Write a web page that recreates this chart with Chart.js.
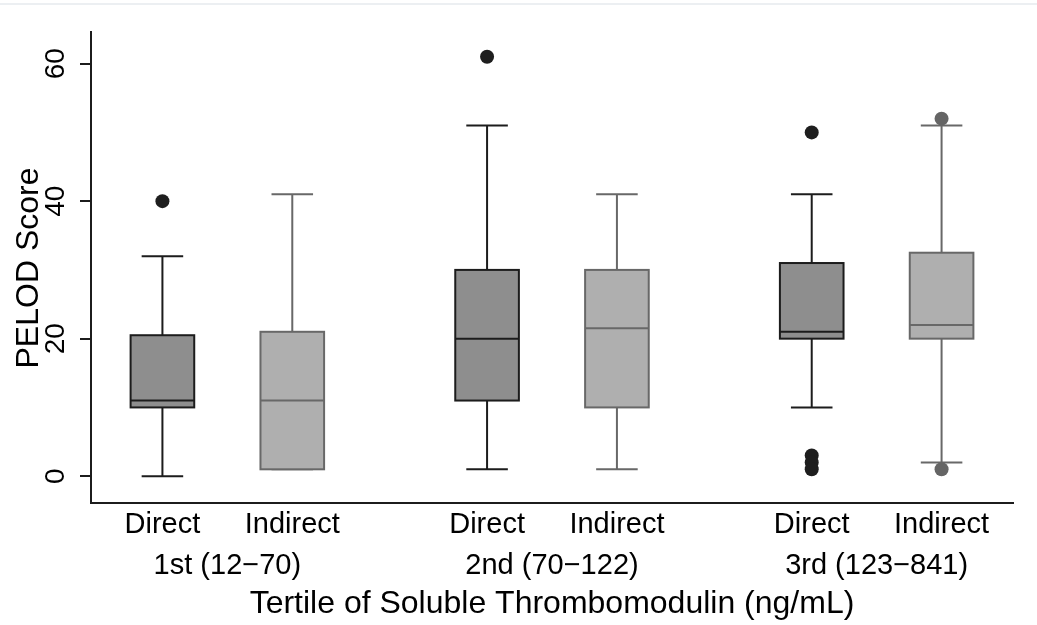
<!DOCTYPE html>
<html>
<head>
<meta charset="utf-8">
<script src="https://cdn.jsdelivr.net/npm/chart.js@4.4.0/dist/chart.umd.min.js"></script>
<style>
  html, body { margin: 0; padding: 0; background: #fff; }
  #wrap { width: 1037px; height: 625px; }
</style>
</head>
<body>
<div id="wrap"><canvas id="myChart" width="1037" height="625"></canvas></div>
<script>
// box plot data
const boxLabels = ['Direct', 'Indirect', 'Direct', 'Indirect', 'Direct', 'Indirect'];
const boxPos = [1, 2, 3.5, 4.5, 6, 7];
const whiskerLow = [0, 1, 1, 1, 10, 2];
const q1 = [10, 1, 11, 10, 20, 20];
const median = [11, 11, 20, 21.5, 21, 22];
const q3 = [20.5, 21, 30, 30, 31, 32.5];
const whiskerHigh = [32, 41, 51, 41, 41, 51];
const outliers = [[40], [], [61], [], [50, 3, 2, 1], [52, 1]];
const groupLabels = ['1st (12\u221270)', '2nd (70\u2212122)', '3rd (123\u2212841)'];
const yTicks = [0, 20, 40, 60];

const FONT = '"Liberation Sans", Arial, Helvetica, sans-serif';
const boxWidth = 0.49;
const capWidth = 0.32;

// outlier points, coloured like their box
let directPts = [], indirectPts = [];
outliers.forEach(function(list, i) {
  list.forEach(function(v) {
    if (i % 2 == 0) directPts.push({x: boxPos[i], y: v});
    else indirectPts.push({x: boxPos[i], y: v});
  });
});

const boxPlugin = {
  id: 'boxes',
  beforeDraw(chart) {
    const ctx = chart.ctx;
    ctx.save();
    ctx.fillStyle = '#fff';
    ctx.fillRect(0, 0, chart.width, chart.height);
    ctx.fillStyle = '#eceff2';
    ctx.fillRect(0, 3, chart.width, 2);
    ctx.restore();
  },
  beforeDatasetsDraw(chart) {
    const ctx = chart.ctx;
    const x = chart.scales.x, y = chart.scales.y;
    ctx.save();
    boxPos.forEach(function(p, i) {
      const direct = i % 2 == 0;
      const line = direct ? '#1c1c1c' : '#686868';
      const fill = direct ? '#8e8e8e' : '#afafaf';
      const cx = x.getPixelForValue(p);
      const bl = x.getPixelForValue(p - boxWidth / 2), br = x.getPixelForValue(p + boxWidth / 2);
      const cl = x.getPixelForValue(p - capWidth / 2), cr = x.getPixelForValue(p + capWidth / 2);
      const yq1 = y.getPixelForValue(q1[i]), yq3 = y.getPixelForValue(q3[i]);
      const ylo = y.getPixelForValue(whiskerLow[i]), yhi = y.getPixelForValue(whiskerHigh[i]);
      const ymed = y.getPixelForValue(median[i]);
      ctx.strokeStyle = line;
      ctx.lineWidth = 2;
      // whiskers
      ctx.beginPath();
      ctx.moveTo(cx, yhi); ctx.lineTo(cx, yq3);
      ctx.moveTo(cx, yq1); ctx.lineTo(cx, ylo);
      ctx.moveTo(cl, yhi); ctx.lineTo(cr, yhi);
      ctx.moveTo(cl, ylo); ctx.lineTo(cr, ylo);
      ctx.stroke();
      // box
      ctx.fillStyle = fill;
      ctx.fillRect(bl, yq3, br - bl, yq1 - yq3);
      ctx.strokeRect(bl, yq3, br - bl, yq1 - yq3);
      ctx.beginPath();
      ctx.moveTo(bl, ymed); ctx.lineTo(br, ymed);
      ctx.stroke();
    });
    ctx.restore();
  },
  afterDraw(chart) {
    const ctx = chart.ctx;
    const x = chart.scales.x, y = chart.scales.y;
    ctx.save();
    ctx.fillStyle = '#000';
    ctx.textAlign = 'center';
    ctx.textBaseline = 'middle';
    // y tick labels, rotated
    ctx.font = '28px ' + FONT;
    yTicks.forEach(function(v) {
      ctx.save();
      ctx.translate(56, y.getPixelForValue(v));
      ctx.rotate(-Math.PI / 2);
      ctx.fillText(String(v), 0, 0);
      ctx.restore();
    });
    // category labels
    ctx.font = '29px ' + FONT;
    boxLabels.forEach(function(lab, i) {
      ctx.fillText(lab, x.getPixelForValue(boxPos[i]), 525);
    });
    groupLabels.forEach(function(lab, g) {
      const mid = (boxPos[2 * g] + boxPos[2 * g + 1]) / 2;
      ctx.fillText(lab, x.getPixelForValue(mid), 566);
    });
    // axis titles
    ctx.font = '32px ' + FONT;
    ctx.fillText('Tertile of Soluble Thrombomodulin (ng/mL)', (chart.chartArea.left + chart.chartArea.right) / 2, 604);
    ctx.save();
    ctx.translate(29, 268);
    ctx.rotate(-Math.PI / 2);
    ctx.fillText('PELOD Score', 0, 0);
    ctx.restore();
    ctx.restore();
  }
};

const config = {
  type: 'scatter',
  data: {
    datasets: [{
      label: 'Direct',
      data: directPts,
      backgroundColor: '#1e1e1e',
      borderColor: '#1e1e1e',
      pointRadius: 7,
      borderWidth: 0
    }, {
      label: 'Indirect',
      data: indirectPts,
      backgroundColor: '#656565',
      borderColor: '#656565',
      pointRadius: 7,
      borderWidth: 0
    }]
  },
  options: {
    responsive: false,
    animation: false,
    layout: { padding: { left: 80, top: 32, right: 24, bottom: 122 } },
    plugins: { legend: { display: false }, tooltip: { enabled: false } },
    scales: {
      x: {
        type: 'linear',
        min: 0.45,
        max: 7.55,
        ticks: { display: false },
        grid: { display: false, drawTicks: false },
        border: { display: true, color: '#1c1c1c', width: 2 }
      },
      y: {
        min: -3.9,
        max: 64.6,
        afterBuildTicks: function(scale) {
          scale.ticks = yTicks.map(function(v) { return {value: v}; });
        },
        ticks: { display: false },
        grid: { drawOnChartArea: false, drawTicks: true, tickLength: 11, color: '#1c1c1c', lineWidth: 2 },
        border: { display: true, color: '#1c1c1c', width: 2 }
      }
    }
  },
  plugins: [boxPlugin]
};

const myChart = new Chart(document.getElementById('myChart'), config);
</script>
</body>
</html>
